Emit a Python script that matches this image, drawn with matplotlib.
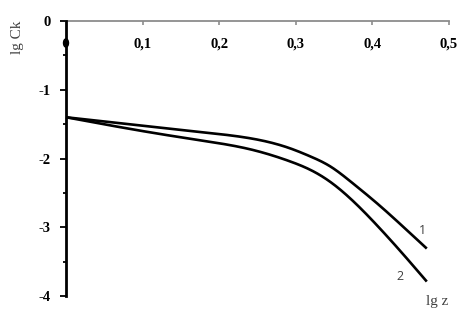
import numpy as np
import matplotlib
matplotlib.use("Agg")
import matplotlib.pyplot as plt
from matplotlib.patches import Ellipse

# Data
lgz = [0.0, 0.110, 0.175, 0.240, 0.292, 0.319, 0.345, 0.371, 0.410, 0.436, 0.471]
curve1 = [-1.40, -1.535, -1.615, -1.705, -1.85, -1.97, -2.115, -2.33, -2.69, -2.95, -3.31]
curve2 = [-1.40, -1.62, -1.735, -1.865, -2.04, -2.165, -2.34, -2.58, -3.02, -3.34, -3.79]
x_ticks = [0.1, 0.2, 0.3, 0.4, 0.5]
x_ticklabels = ["0,1", "0,2", "0,3", "0,4", "0,5"]
y_ticks = [0, -1, -2, -3, -4]
y_ticklabels = ["0", "-1", "-2", "-3", "-4"]
dot_point = (0.0, -0.32)


def spline(xs, ys, n=400):
    """Natural cubic spline rendering of a smoothed line through the points."""
    x = np.asarray(xs, float)
    y = np.asarray(ys, float)
    N = len(x)
    h = np.diff(x)
    A = np.zeros((N, N))
    b = np.zeros(N)
    A[0, 0] = 1
    A[-1, -1] = 1
    for i in range(1, N - 1):
        A[i, i - 1] = h[i - 1]
        A[i, i] = 2 * (h[i - 1] + h[i])
        A[i, i + 1] = h[i]
        b[i] = 6 * ((y[i + 1] - y[i]) / h[i] - (y[i] - y[i - 1]) / h[i - 1])
    M = np.linalg.solve(A, b)
    xx = np.linspace(x[0], x[-1], n)
    k = np.clip(np.searchsorted(x, xx) - 1, 0, N - 2)
    a = x[k + 1] - xx
    c = xx - x[k]
    hk = h[k]
    yy = (M[k] * a ** 3 / (6 * hk) + M[k + 1] * c ** 3 / (6 * hk)
          + (y[k] / hk - M[k] * hk / 6) * a + (y[k + 1] / hk - M[k + 1] * hk / 6) * c)
    return xx, yy


fig = plt.figure(figsize=(4.66, 3.26), dpi=100)
ax = fig.add_axes([66 / 466, 30 / 326, 383 / 466, 275 / 326])
ax.set_xlim(0, 0.5)
ax.set_ylim(-4, 0)

for ys in (curve1, curve2):
    sx, sy = spline(lgz, ys)
    ax.plot(sx, sy, color="black", lw=1.9, solid_capstyle="butt", clip_on=False, zorder=3)

ax.add_patch(Ellipse(dot_point, width=0.0065, height=0.12, color="black", clip_on=False, zorder=5))

for s in ("bottom", "right"):
    ax.spines[s].set_visible(False)
ax.spines["top"].set_color("#8c8c8c")
ax.spines["top"].set_linewidth(1.3)
ax.spines["left"].set_color("black")
ax.spines["left"].set_linewidth(2.0)
ax.spines["left"].set_zorder(4)

serif = "Liberation Serif"
ax.set_xticks(x_ticks)
ax.set_xticklabels([])
ax.tick_params(axis="x", which="both", top=True, bottom=False, direction="in",
               length=3, width=1.2, color="#8c8c8c", labeltop=False, labelbottom=False)
for xv, lab in zip(x_ticks, x_ticklabels):
    ax.text(xv, -0.335, lab, ha="center", va="center", fontsize=10.5, fontweight="bold",
            family=serif, color="black")

ax.set_yticks(y_ticks)
ax.set_yticklabels(y_ticklabels, fontsize=10.5, fontweight="bold", family=serif)
ax.set_yticks([-0.5, -1.5, -2.5, -3.5], minor=True)
ax.tick_params(axis="y", which="major", direction="out", length=4, width=1.3, pad=7)
ax.tick_params(axis="y", which="minor", direction="out", length=2.5, width=1.3)

fig.text(17 / 466, 1 - 37 / 326, "lg Ck", rotation=90, ha="center", va="center",
         fontsize=11, family=serif, color="#404040")
fig.text(437 / 466, 1 - 301 / 326, "lg z", ha="center", va="center",
         fontsize=11, family=serif, color="#404040")
fig.text(422 / 466, 1 - 230 / 326, "1", ha="center", va="center",
         fontsize=9, family="Open Sans", color="#404040")
fig.text(400 / 466, 1 - 277 / 326, "2", ha="center", va="center",
         fontsize=9, family="Open Sans", color="#404040")

fig.savefig("out.png", dpi=100)
